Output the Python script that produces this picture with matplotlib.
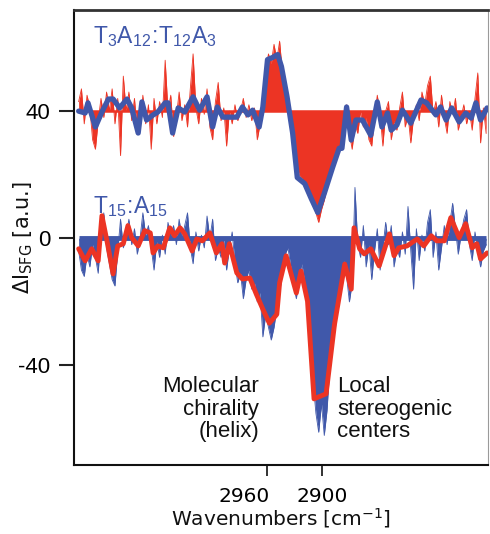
import numpy as np
import matplotlib
matplotlib.use("Agg")
import matplotlib.pyplot as plt
from matplotlib.transforms import ScaledTranslation

# ---------------- data ----------------
# smoothed trace of T3A12:T12A3 (offset +40)
top_smooth_w = [3162, 3155, 3152, 3144, 3137, 3130, 3125, 3118, 3110, 3105, 3098, 3094, 3089,
                3082, 3077, 3069, 3066, 3061, 3055, 3048, 3039, 3032, 3024, 3018, 3013, 3007,
                3000, 2992, 2986, 2980, 2975, 2968, 2964, 2959, 2954, 2948, 2944, 2938, 2932,
                2927, 2919, 2912, 2905, 2898, 2889, 2882, 2879, 2874, 2869, 2864, 2857, 2848,
                2841, 2836, 2830, 2826, 2820, 2814, 2805, 2794, 2788, 2778, 2773, 2767, 2761,
                2753, 2746, 2740, 2735, 2730, 2723]
top_smooth_v = [40.0, 39.4, 42.6, 35.0, 39.7, 43.8, 43.8, 41.0, 43.8, 41.0, 33.1, 42.9, 37.2,
                38.8, 39.7, 42.6, 42.6, 33.1, 41.0, 39.7, 44.5, 40.3, 44.5, 35.0, 41.3, 38.1,
                38.1, 38.1, 41.3, 38.8, 40.3, 35.0, 41.3, 56.2, 56.8, 57.8, 54.0, 44.5, 33.1,
                19.1, 17.2, 12.5, 8.1, 14.1, 22.3, 28.3, 28.3, 41.3, 30.9, 37.2, 37.2, 32.4,
                42.9, 35.0, 39.4, 34.0, 35.6, 40.3, 36.2, 43.5, 42.6, 38.8, 41.3, 37.2, 41.0,
                36.6, 39.4, 37.8, 42.6, 37.2, 41.0]

# smoothed trace of T15:A15 (offset 0)
bot_smooth_w = [3162, 3155, 3148, 3141, 3137, 3131, 3125, 3120, 3114, 3109, 3105, 3098, 3091,
                3085, 3082, 3077, 3071, 3064, 3059, 3053, 3048, 3040, 3035, 3029, 3021, 3014,
                3008, 3005, 3000, 2992, 2986, 2978, 2971, 2964, 2957, 2949, 2946, 2939, 2928,
                2923, 2916, 2909, 2896, 2887, 2876, 2869, 2866, 2860, 2855, 2848, 2839, 2828,
                2823, 2818, 2809, 2798, 2791, 2783, 2777, 2769, 2762, 2753, 2746, 2739, 2734,
                2730, 2723]
bot_smooth_v = [-3.3, -7.1, -3.3, -7.1, 7.1, -1.7, -11.2, -2.4, -1.7, 4.0, 0.2, -2.4, 2.4,
                1.7, -4.6, -2.4, -3.0, 3.3, 0.8, 3.3, 1.4, -4.0, -0.2, -0.8, 1.7, -4.6,
                -1.7, -7.8, -1.7, -10.9, -12.8, -12.5, -17.6, -22.3, -26.7, -23.9, -14.0, -5.5,
                -17.2, -10.3, -19.8, -50.5, -48.9, -27.1, -8.1, -16.0, 3.3, -3.3, -4.9, -3.3,
                -8.7, 1.4, -5.5, -3.0, -2.4, -0.2, -2.4, 0.8, -0.8, -0.8, 6.5, 0.2, 4.6, -3.0,
                -1.7, -6.5, -4.6]

# raw (noisy) traces on a 3 cm-1 grid from 3162 to 2724
raw_w = list(range(3162, 2723, -3))
top_raw = [43, 47, 36, 45, 41, 31, 28, 37, 44, 38,
           46, 40, 47, 36, 44, 26, 51, 40, 46, 37,
           44, 33, 35, 45, 36, 42, 28, 44, 36, 43,
           38, 56, 40, 45, 32, 38, 46, 37, 42, 35,
           47, 58, 41, 36, 44, 39, 47, 35, 31, 43,
           49, 37, 41, 29, 40, 36, 42, 37, 40, 44,
           38, 42, 37, 41, 31, 36, 44, 52, 58, 55,
           61, 56, 62, 52, 47, 43, 36, 31, 24, 20,
           19, 17, 15, 13, 11, 8, 5, 9, 12, 16,
           19, 22, 25, 27, 29, 30, 42, 33, 28, 36,
           33, 40, 35, 38, 31, 29, 38, 45, 39, 29,
           40, 43, 31, 37, 34, 41, 46, 35, 39, 30,
           38, 42, 37, 46, 42, 48, 51, 39, 43, 35,
           45, 38, 33, 43, 39, 44, 34, 38, 42, 36,
           40, 34, 44, 52, 30, 41, 33]
bot_raw = [-4, -10, -12, -5, -9, -2, -6, -11, 2, 8,
           -3, -8, -13, -15, -4, 6, -3, 1, 6, -2,
           3, -5, 0, 8, 1, 4, -3, -10, -1, -6,
           1, -5, 5, 1, 4, -2, 6, 0, 4, 8,
           -3, -8, 2, -4, 1, -3, 7, 0, 6, -7,
           -3, -6, 0, -10, -3, 2, -8, -14, -11, -19,
           -13, -10, -16, -14, -20, -17, -31, -24, -28, -32,
           -28, -22, -17, -11, -5, -3, -9, -15, -19, -12,
           -8, -14, -21, -33, -45, -55, -61, -52, -62, -54,
           -40, -31, -28, -20, -14, -7, -12, -20, -14, 16,
           -2, -6, 4, -9, -2, -13, -4, 3, -10, -3,
           5, -2, 4, -9, -3, -6, 2, -5, 10, -4,
           -16, 3, -7, 1, -4, 5, 9, -6, 2, -10,
           -3, 4, -2, 5, 11, 3, -5, 1, 6, 9,
           -2, -7, 2, -4, -9, -4, -2]

top_offset = 40
bot_offset = 0
top_label = r"$\mathregular{T_3A_{12}\!:\!T_{12}A_3}$"
bot_label = r"$\mathregular{T_{15}\!:\!A_{15}}$"
xticks = [2960, 2900]
yticks = [-40, 0, 40]

RED = "#EC3424"
BLUE = "#4058AA"

# ---------------- figure ----------------
fig = plt.figure(figsize=(4.9, 5.34), dpi=100)
L, R, T, B = 74, 488, 10, 465
W, H = 490, 534
ax = fig.add_axes([L / W, 1 - B / H, (R - L) / W, (B - T) / H])

rw = np.array(raw_w, dtype=float)
tr = np.array(top_raw, dtype=float)
br = np.array(bot_raw, dtype=float)

# top: red raw fill + blue smoothed line
ax.fill_between(rw, top_offset, tr, color=RED, lw=0, zorder=2)
ax.plot(rw, tr, color=RED, lw=0.6, zorder=2)
ax.hlines(top_offset, rw.min(), rw.max(), color=RED, lw=1.8, zorder=2)
ax.plot(top_smooth_w, top_smooth_v, color=BLUE, lw=3.8, zorder=3,
        solid_joinstyle="round", solid_capstyle="round")

# bottom: blue raw fill + red smoothed line
ax.fill_between(rw, bot_offset, br, color=BLUE, lw=0, zorder=2)
ax.plot(rw, br, color=BLUE, lw=0.6, zorder=2)
ax.hlines(bot_offset, rw.min(), rw.max(), color=BLUE, lw=3.5, zorder=2)
ax.plot(bot_smooth_w, bot_smooth_v, color=RED, lw=3.5, zorder=3,
        solid_joinstyle="round", solid_capstyle="round")

ax.set_xlim(3167, 2722)
ax.set_ylim(-71.3, 71.8)

ax.set_xticks(xticks)
ax.set_xticklabels([str(t) for t in xticks], fontfamily="DejaVu Sans", fontsize=14.5)
ax.set_yticks(yticks)
ax.set_yticklabels([str(t) for t in yticks], fontfamily="Liberation Sans", fontsize=16)
ax.tick_params(axis="x", direction="out", length=8, width=1.3, pad=8, color="#222222")
ax.tick_params(axis="y", direction="out", length=11, width=1.5, pad=6, color="#222222")
# shift the first x label as in the reference
lab0 = ax.get_xticklabels()[0]
lab0.set_transform(lab0.get_transform() + ScaledTranslation(-22 / 100, 0, fig.dpi_scale_trans))

for s in ["left", "bottom"]:
    ax.spines[s].set_color("#111111")
    ax.spines[s].set_linewidth(1.5)
ax.spines["top"].set_color("#333333")
ax.spines["top"].set_linewidth(2.0)
ax.spines["right"].set_color("#9a9a9a")
ax.spines["right"].set_linewidth(0.8)

def afx(px):
    return (px - L) / (R - L)

def afy(py):
    return (B - py) / (B - T)

ax.text(afx(93), afy(43), top_label, transform=ax.transAxes, color=BLUE,
        fontfamily="Liberation Sans", fontsize=16.5, ha="left", va="baseline", zorder=4)
ax.text(afx(93), afy(213), bot_label, transform=ax.transAxes, color=BLUE,
        fontfamily="Liberation Sans", fontsize=16.5, ha="left", va="baseline", zorder=4)

ax.text(afx(259), afy(376), "Molecular\nchirality\n(helix)", transform=ax.transAxes,
        color="#111111", fontfamily="Liberation Sans", fontsize=16, ha="right",
        va="top", multialignment="right", linespacing=1.1)
ax.text(afx(337), afy(376), "Local\nstereogenic\ncenters", transform=ax.transAxes,
        color="#111111", fontfamily="Liberation Sans", fontsize=16, ha="left",
        va="top", multialignment="left", linespacing=1.1)

fig.text(281 / W, 1 - 518 / H, r"Wavenumbers [cm$\mathregular{^{-1}}$]",
         fontfamily="DejaVu Sans", fontsize=14.5, ha="center", va="center", color="#111111")
fig.text(23 / W, 1 - 237.5 / H, r"$\mathregular{\Delta I_{SFG}}$ [a.u.]",
         fontfamily="DejaVu Sans", fontsize=15, ha="center", va="center",
         rotation=90, color="#111111")

fig.savefig("out.png", dpi=100)
